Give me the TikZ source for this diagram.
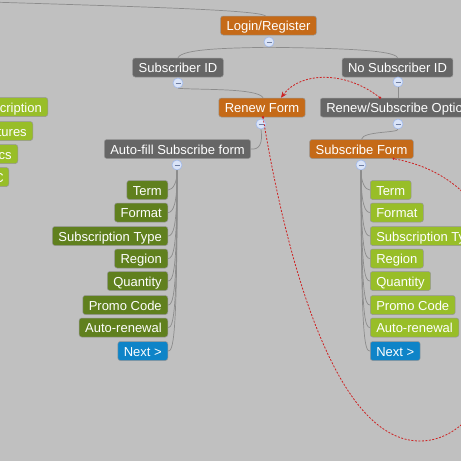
\documentclass[tikz,border=0pt]{standalone}
\usepackage{fontspec}
\setmainfont{Liberation Sans}
\usetikzlibrary{arrows.meta}
\definecolor{bg}{RGB}{192,192,192}
\definecolor{orangebox}{RGB}{197,106,24}
\definecolor{graybox}{RGB}{102,102,102}
\definecolor{dgreen}{RGB}{96,128,30}
\definecolor{lgreen}{RGB}{152,190,40}
\definecolor{bluebox}{RGB}{14,132,200}
\definecolor{boxline}{RGB}{150,150,150}
\definecolor{connline}{RGB}{140,140,140}
\definecolor{cfill}{RGB}{218,228,248}
\definecolor{cdraw}{RGB}{160,185,235}
\definecolor{cminus}{RGB}{110,125,160}
\definecolor{reddash}{RGB}{205,35,35}
\tikzset{
  box/.style={rounded corners=2.5pt, draw=boxline, line width=0.5pt, text=white,
    font=\fontsize{13}{15}\selectfont, inner xsep=6pt, inner ysep=0pt,
    minimum height=19pt, text height=10.5pt, text depth=0.5pt},
  obox/.style={box, fill=orangebox},
  gbox/.style={box, fill=graybox},
  dgbox/.style={box, fill=dgreen},
  lgbox/.style={box, fill=lgreen},
  bbox/.style={box, fill=bluebox},
  collapse/.style={circle, minimum size=10pt, inner sep=0pt, fill=cfill, draw=cdraw, line width=0.6pt,
    path picture={\draw[cminus, line width=0.8pt]
      ([xshift=-2.5pt]path picture bounding box.center) -- ([xshift=2.5pt]path picture bounding box.center);}},
  conn/.style={draw=connline, line width=0.7pt},
  rlink/.style={draw=reddash, line width=0.8pt, dash pattern=on 2pt off 1.5pt},
  rdot/.style={fill=reddash},
}
\begin{document}
\begin{tikzpicture}[x=1pt,y=-1pt]
\useasboundingbox (0,0) rectangle (461,461);
\clip (0,0) rectangle (461,461);
\fill[bg] (0,0) rectangle (461,461);

% main nodes
\node[obox] (login) at (268.5,25.5) {Login/Register};
\node[gbox] (subid) at (178,67.5) {Subscriber ID};
\node[gbox] (nosub) at (397.5,67.5) {No Subscriber ID};
\node[obox] (renew) at (262,107.5) {Renew Form};
\node[gbox, anchor=west] (rso) at (320,107.5) {Renew/Subscribe Options};
\node[gbox] (auto) at (177.5,149) {Auto-fill Subscribe form};
\node[obox] (subform) at (361.5,149) {Subscribe Form};

% cut-off nodes at the left edge
\node[lgbox, anchor=east] (l1) at (48,107) {\hspace*{20pt}cription};
\node[lgbox, anchor=east] (l2) at (33,131) {\hspace*{20pt}tures};
\node[lgbox, anchor=east] (l3) at (18,154) {\hspace*{20pt}cs};
\node[lgbox, anchor=east, inner xsep=5pt] (l4) at (9,177) {\hspace*{20pt}C};

% collapse markers
\node[collapse] (clogin) at (269,42) {};
\node[collapse] (csubid) at (178,83) {};
\node[collapse] (cnosub) at (398,82) {};
\node[collapse] (crenew) at (261,124) {};
\node[collapse] (crso) at (398,124) {};
\node[collapse] (cauto) at (177,165) {};
\node[collapse] (csubform) at (361,165) {};

% incoming connector to Login
\coordinate (topin) at (-10,2);
\draw[conn] (topin) .. controls (150,7) and (255,10) .. ([xshift=-3pt]login.north);

% mind-map connectors
\draw[conn] (clogin.south) .. controls (225,48) and (182,49) .. (subid.north);
\draw[conn] (clogin.south) .. controls (320,48) and (395,49) .. (nosub.north);
\draw[conn] (csubid.south) .. controls (200,90) and (258,88) .. ([xshift=1pt]renew.north);
\draw[conn] (cnosub.south) -- (rso.north west -| cnosub.south);
\draw[conn] (crenew.south) .. controls (263,144) and (259,150) .. (auto.east);
\draw[conn] (crso.south) .. controls (398,133) and (363,131) .. (subform.north);

% left column (auto-fill children)
\foreach \n/\t/\s/\y in {at/Term/dgbox/190, af/Format/dgbox/212.5, as/Subscription Type/dgbox/236,
  ar/Region/dgbox/258.5, aq/Quantity/dgbox/281, ap/Promo Code/dgbox/305,
  aa/Auto-renewal/dgbox/327.5, an/Next >/bbox/351}{
  \node[\s, anchor=east] (\n) at (168,\y) {\t};
  \draw[conn] (cauto.south) .. controls (177.5,{\y-8}) and (173,\y) .. (\n.east);
}

% right column (subscribe form children)
\foreach \n/\t/\s/\y in {bt/Term/lgbox/190, bf/Format/lgbox/212.5, bs/Subscription Type/lgbox/236,
  br/Region/lgbox/258.5, bq/Quantity/lgbox/281, bp/Promo Code/lgbox/305,
  ba/Auto-renewal/lgbox/327.5, bn/Next >/bbox/351}{
  \node[\s, anchor=west] (\n) at (370,\y) {\t};
  \draw[conn] (csubform.south) .. controls (361,{\y-8}) and (365,\y) .. (\n.west);
}

% red dashed relationship links
\coordinate (d1s) at ([xshift=60pt]rso.north west);
\coordinate (d1e) at ([xshift=19pt]renew.north);
\coordinate (d2s) at ([xshift=1pt]renew.south);
\coordinate (d2e) at ([xshift=-20pt]subform.south east);
\draw[rlink, -{Stealth[length=6pt,width=5pt]}] (d1s) .. controls (345,70) and (300,72) .. (d1e);
\fill[rdot] (d1s) circle (1.3pt);
\draw[rlink] (d2s) .. controls (290,280) and (340,441) .. (420,441)
  .. controls (520,441) and (560,188) .. (d2e);
\fill[rdot] (d2s) circle (1.3pt);
\fill[rdot] (d2e) circle (1.3pt);
\end{tikzpicture}
\end{document}
